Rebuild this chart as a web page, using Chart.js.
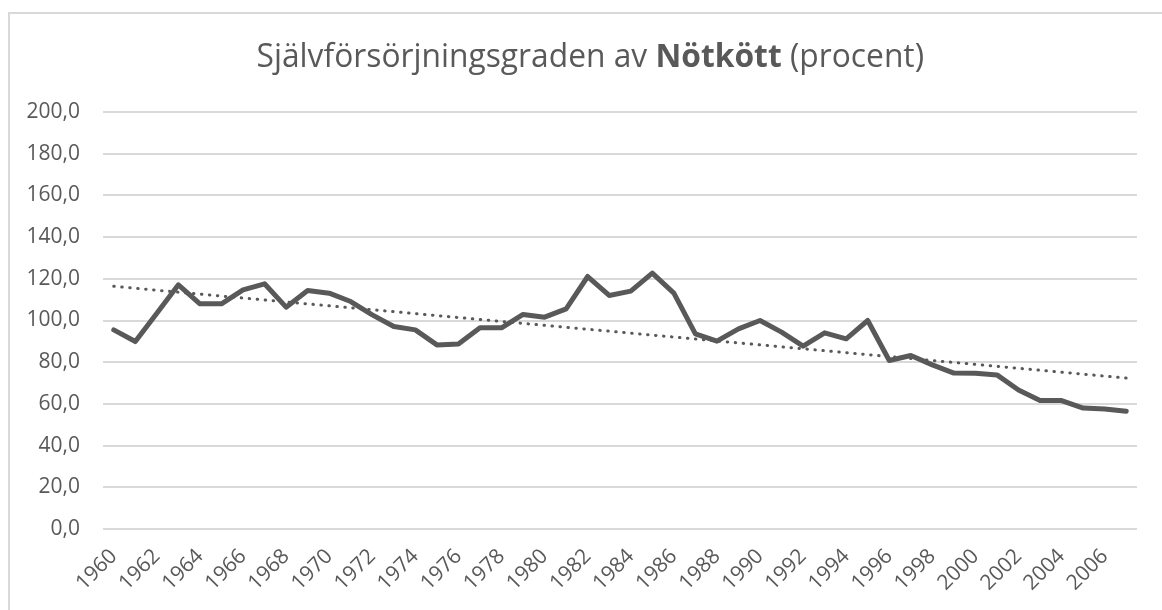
<!DOCTYPE html>
<html>
<head>
<meta charset="utf-8">
<script src="https://cdn.jsdelivr.net/npm/chart.js@4/dist/chart.umd.min.js"></script>
<style>
  html, body { margin: 0; padding: 0; background: #fff; }
  #wrap { position: relative; width: 1162px; height: 610px; overflow: hidden; }
  #frame { position: absolute; left: 8px; top: 12px; width: 1200px; height: 700px;
           border-left: 2px solid #d9d9d9; border-top: 2px solid #d9d9d9; }
  #title { position: absolute; left: 0; top: 39px; width: 1180px; text-align: center;
           font-family: "Open Sans", sans-serif; font-size: 32px; line-height: 32px;
           color: #595959; white-space: nowrap; }
  #title span.inner { display: inline-block; transform-origin: center; }
  canvas { position: absolute; left: 0; top: 0; }
</style>
</head>
<body>
<div id="wrap">
  <div id="frame"></div>
  <canvas id="chart" width="1162" height="610"></canvas>
  <div id="title"><span class="inner">Självförsörjningsgraden av <b>Nötkött</b> (procent)</span></div>
</div>
<script>
console.log("chart loaded");

// Data
const years = [
  '1960','1961','1962','1963','1964','1965','1966','1967','1968','1969',
  '1970','1971','1972','1973','1974','1975','1976','1977','1978','1979',
  '1980','1981','1982','1983','1984','1985','1986','1987','1988','1989',
  '1990','1991','1992','1993','1994','1995','1996','1997','1998','1999',
  '2000','2001','2002','2003','2004','2005','2006','2007'
];
const selfSufficiency = [
  95.5, 89.9, 103.5, 117.1, 108.0, 108.0, 114.7, 117.6, 106.4, 114.4,
  113.1, 109.1, 102.7, 97.1, 95.5, 88.3, 88.7, 96.5, 96.5, 102.9,
  101.6, 105.6, 121.1, 112.0, 114.1, 122.7, 113.1, 93.6, 90.1, 96.0,
  100.0, 94.4, 87.7, 94.1, 91.2, 100.0, 80.8, 83.2, 78.7, 74.8,
  74.7, 73.9, 66.7, 61.6, 61.6, 58.0, 57.6, 56.5
];
// linear trend line: value at first and last year
const trendEnds = [116.4, 72.4];
const yTicks = [0, 20, 40, 60, 80, 100, 120, 140, 160, 180, 200];

const trendData = years.map((y, i) => {
  if (i === 0) return trendEnds[0];
  if (i === years.length - 1) return trendEnds[1];
  return null;
});

// Fit title width to the reference
const inner = document.querySelector('#title .inner');
const targetWidth = 668;
inner.style.transform = `scaleX(${targetWidth / inner.offsetWidth})`;

const textColor = '#595959';
const gridColor = '#d9d9d9';

new Chart(document.getElementById('chart').getContext('2d'), {
  type: 'line',
  data: {
    labels: years,
    datasets: [
      {
        label: 'Nötkött',
        data: selfSufficiency,
        borderColor: '#595959',
        borderWidth: 5,
        borderJoinStyle: 'round',
        borderCapStyle: 'round',
        pointRadius: 0,
        tension: 0,
        fill: false,
        order: 0
      },
      {
        label: 'Linjär trend',
        data: trendData,
        spanGaps: true,
        borderColor: '#595959',
        borderWidth: 3,
        borderDash: [0.5, 7.5],
        borderCapStyle: 'round',
        pointRadius: 0,
        fill: false,
        order: 1
      }
    ]
  },
  options: {
    responsive: false,
    animation: false,
    layout: { padding: { left: 0, right: 25, top: 112, bottom: 0 } },
    plugins: {
      legend: { display: false },
      title: { display: false },
      tooltip: { enabled: false }
    },
    scales: {
      x: {
        offset: true,
        grid: { display: false },
        border: { display: false },
        ticks: {
          autoSkip: false,
          maxRotation: 45,
          minRotation: 45,
          padding: 7,
          color: textColor,
          font: { family: 'Open Sans', size: 21 },
          callback: function (value, index) {
            return index % 2 === 0 ? this.getLabelForValue(value) : '';
          }
        },
        afterFit: (scale) => { scale.height = 81; }
      },
      y: {
        min: 0,
        max: 200,
        afterBuildTicks: (scale) => { scale.ticks = yTicks.map(v => ({ value: v })); },
        grid: { color: gridColor, lineWidth: 2, drawTicks: false },
        border: { display: false },
        ticks: {
          padding: 23,
          color: textColor,
          font: { family: 'Open Sans', size: 21 },
          callback: (v) => v.toFixed(1).replace('.', ',')
        },
        afterFit: (scale) => { scale.width = 103; }
      }
    }
  }
});
</script>
</body>
</html>
